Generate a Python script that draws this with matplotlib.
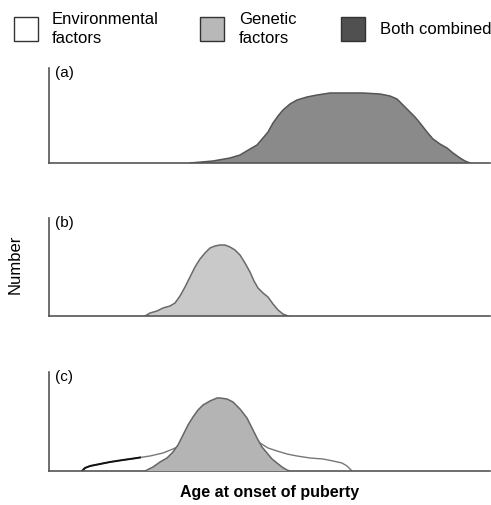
import numpy as np
import matplotlib.pyplot as plt
from matplotlib.patches import Rectangle

plt.rcParams['font.family'] = ['Liberation Sans', 'DejaVu Sans']

# age (arbitrary units) and number (arbitrary units)
combined_age = [141, 164, 181, 191, 201, 208, 214, 219, 224, 229, 234, 241, 248, 258,
                268, 281, 314, 331, 341, 348, 354, 361, 366, 371, 378, 384, 391,
                398, 404, 411, 416, 421]
combined_num = [0, 2, 5, 8, 14, 18, 25, 31, 40, 47, 53, 59, 63, 66,
                68, 70, 70, 69, 67, 64, 58, 51, 46, 40, 31, 24, 19,
                15, 10, 5, 2, 0]

genetic_age = [96, 101, 108, 114, 121, 126, 131, 136, 141, 146, 151, 156, 161, 166,
               171, 176, 181, 186, 191, 196, 201, 205, 209, 214, 219, 224, 229, 234, 239]
genetic_num = [0, 3, 5, 8, 10, 13, 20, 29, 39, 49, 57, 63, 68, 70,
               71, 71, 69, 66, 61, 53, 44, 35, 28, 23, 19, 12, 6, 2, 0]

genetic_c_age = [96, 104, 111, 118, 124, 129, 134, 139, 144, 149, 154, 161, 168, 171,
                 178, 184, 191, 198, 203, 208, 213, 218, 223, 228, 233, 238, 241]
genetic_c_num = [0, 4, 9, 13, 19, 26, 36, 46, 54, 61, 66, 70, 73, 73,
                 72, 69, 62, 53, 43, 33, 24, 18, 12, 8, 4, 1, 0]

env_age = [33, 36, 41, 51, 61, 74, 88, 91, 101, 114, 124, 128, 171,
           211, 219, 228, 238, 248, 261, 274, 284, 293, 298, 301, 303]
env_num = [0, 3, 5, 7, 9, 11, 13, 13.5, 15, 18, 22, 24, 30,
           28, 23, 20, 17, 15, 13, 12, 10, 8, 5, 2, 0]

panel_labels = ['(a)', '(b)', '(c)']

dark = '#8a8a8a'
light = '#c9c9c9'
mid = '#b4b4b4'
edge = '#555555'

fig = plt.figure(figsize=(4.91, 5.05), dpi=100)
W, H = 491, 505


def add_panel(top, base):
    ax = fig.add_axes([49 / W, 1 - base / H, 441 / W, (base - top) / H])
    ax.set_xlim(0, 441)
    ax.set_ylim(0, base - top)
    for s in ['top', 'right']:
        ax.spines[s].set_visible(False)
    for s in ['left', 'bottom']:
        ax.spines[s].set_color('#555555')
        ax.spines[s].set_linewidth(1.2)
    ax.set_xticks([])
    ax.set_yticks([])
    ax.patch.set_alpha(0)
    return ax


ax_a = add_panel(68, 163)
ax_b = add_panel(218, 316)
ax_c = add_panel(372, 471)

ax_a.fill_between(combined_age, combined_num, color=dark, edgecolor='none')
ax_a.plot(combined_age, combined_num, color=edge, lw=1.1, solid_joinstyle='round')

ax_b.fill_between(genetic_age, genetic_num, color=light, edgecolor='none')
ax_b.plot(genetic_age, genetic_num, color='#6a6a6a', lw=1.1, solid_joinstyle='round')

ax_c.fill_between(env_age, env_num, color='white', edgecolor='none')
ax_c.plot(env_age, env_num, color='#777777', lw=1.0, solid_joinstyle='round')
ax_c.plot(env_age[:8], env_num[:8], color='#111111', lw=1.4, solid_joinstyle='round')
ax_c.fill_between(genetic_c_age, genetic_c_num, color=mid, edgecolor='none', zorder=3)
ax_c.plot(genetic_c_age, genetic_c_num, color='#666666', lw=1.1, zorder=4,
          solid_joinstyle='round')

for ax, lab in zip([ax_a, ax_b, ax_c], panel_labels):
    ax.text(6, 0.95, lab, transform=ax.get_xaxis_transform(), fontsize=11,
            ha='left', va='center')

# legend
boxes = [(14, 'white', 'Environmental\nfactors', 52),
         (200, '#b8b8b8', 'Genetic\nfactors', 239),
         (341, '#505050', 'Both combined', 380)]
for bx, col, txt, tx in boxes:
    fig.patches.append(Rectangle((bx / W, 1 - 41 / H), 24 / W, 24 / H,
                                 transform=fig.transFigure, facecolor=col,
                                 edgecolor='#333333', lw=1.0))
    fig.text(tx / W, 1 - 29 / H, txt, fontsize=12, ha='left', va='center',
             linespacing=1.3)

fig.text(15 / W, 1 - 264 / H, 'Number', rotation=90, fontsize=12,
         ha='center', va='center')
fig.text(270 / W, 1 - 493 / H, 'Age at onset of puberty', fontsize=11.5,
         ha='center', va='center', fontweight='semibold')

fig.savefig('out.png', dpi=100)
